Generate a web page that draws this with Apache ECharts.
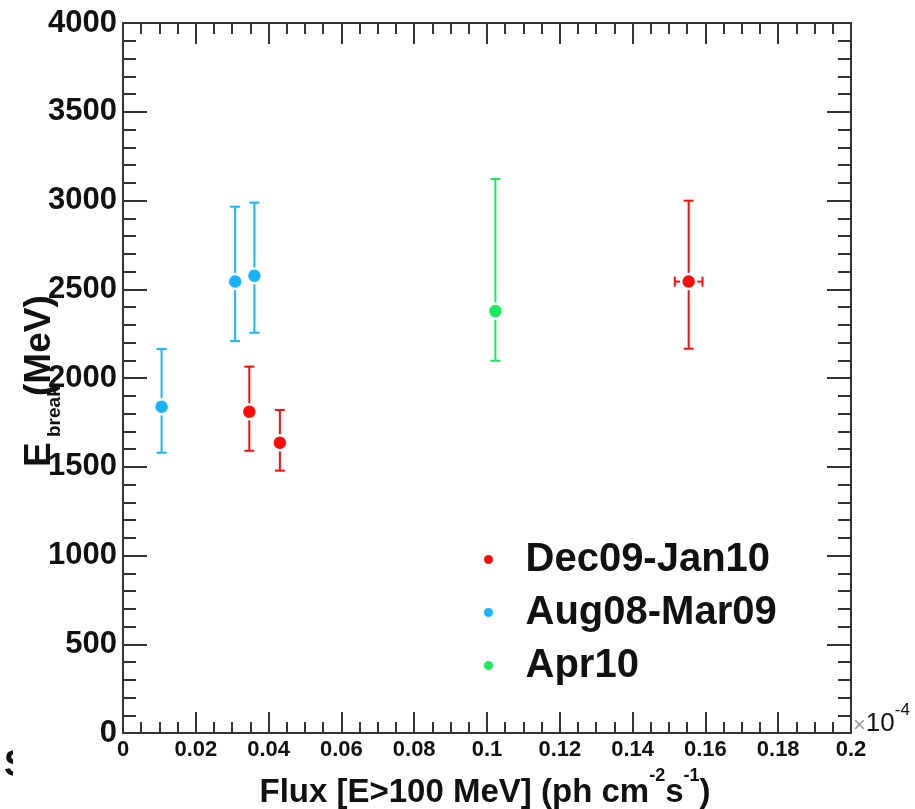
<!DOCTYPE html>
<html>
<head>
<meta charset="utf-8">
<script src="https://cdn.jsdelivr.net/npm/echarts@6/dist/echarts.min.js"></script>
<style>
  html, body { margin: 0; padding: 0; background: #fff; }
  #chart { width: 915px; height: 809px; }
</style>
</head>
<body>
<div id="chart"></div>
<script>
// Period labels and colours
const seriesNames = ['Dec09-Jan10', 'Aug08-Mar09', 'Apr10'];
const seriesColors = ['#ff0a0a', '#16b4ff', '#14ec5c'];

// Flux in units of 1e-4 ph cm^-2 s^-1, break energy in MeV with its lower/upper bounds
const decFlux    = [0.0347, 0.0431, 0.1554];
const decFluxErr = [0, 0, 0.0038];
const decEbreak  = [1810, 1635, 2543];
const decLow     = [1590, 1478, 2165];
const decHigh    = [2064, 1820, 2999];

const augFlux    = [0.0106, 0.0308, 0.0361];
const augFluxErr = [0, 0, 0];
const augEbreak  = [1838, 2543, 2576];
const augLow     = [1579, 2208, 2255];
const augHigh    = [2163, 2965, 2988];

const aprFlux    = [0.1023];
const aprFluxErr = [0];
const aprEbreak  = [2377];
const aprLow     = [2097];
const aprHigh    = [3121];

// Axis ranges
const xRange = [0, 0.2, 0.02];
const yRange = [0, 4000, 500];

const FONT = '"Liberation Sans", Arial, Helvetica, sans-serif';
const AXIS_COLOR = '#333';
const TEXT_COLOR = '#111';

function rows(flux, fluxErr, eb, lo, hi) {
  return flux.map((f, i) => [f, eb[i], lo[i], hi[i], fluxErr[i]]);
}

const groups = [
  rows(decFlux, decFluxErr, decEbreak, decLow, decHigh),
  rows(augFlux, augFluxErr, augEbreak, augLow, augHigh),
  rows(aprFlux, aprFluxErr, aprEbreak, aprLow, aprHigh)
];

function errorBarRenderer(color) {
  return function (params, api) {
    const x = api.value(0), y = api.value(1);
    const lo = api.value(2), hi = api.value(3), dx = api.value(4);
    const pLo = api.coord([x, lo]);
    const pHi = api.coord([x, hi]);
    const cap = 5;
    const st = { stroke: color, lineWidth: 2 };
    const children = [
      { type: 'line', shape: { x1: pLo[0], y1: pLo[1], x2: pHi[0], y2: pHi[1] }, style: st },
      { type: 'line', shape: { x1: pLo[0] - cap, y1: pLo[1], x2: pLo[0] + cap, y2: pLo[1] }, style: st },
      { type: 'line', shape: { x1: pHi[0] - cap, y1: pHi[1], x2: pHi[0] + cap, y2: pHi[1] }, style: st }
    ];
    if (dx > 0) {
      const pL = api.coord([x - dx, y]);
      const pR = api.coord([x + dx, y]);
      children.push(
        { type: 'line', shape: { x1: pL[0], y1: pL[1], x2: pR[0], y2: pR[1] }, style: st },
        { type: 'line', shape: { x1: pL[0], y1: pL[1] - cap, x2: pL[0], y2: pL[1] + cap }, style: st },
        { type: 'line', shape: { x1: pR[0], y1: pR[1] - cap, x2: pR[0], y2: pR[1] + cap }, style: st }
      );
    }
    return { type: 'group', children: children };
  };
}

const tickLine = { color: AXIS_COLOR, width: 2 };

function xAxisDef(pos, showLabel) {
  return {
    type: 'value', position: pos,
    min: xRange[0], max: xRange[1], interval: xRange[2],
    axisLine: { show: true, onZero: false, lineStyle: tickLine },
    axisTick: { show: true, inside: true, length: 21, lineStyle: tickLine },
    minorTick: { show: true, splitNumber: 4, length: 11, lineStyle: tickLine },
    splitLine: { show: false },
    minorSplitLine: { show: false },
    axisLabel: {
      show: showLabel, margin: 6, fontSize: 22, fontWeight: 'bold',
      fontFamily: FONT, color: TEXT_COLOR,
      formatter: v => String(+v.toFixed(2))
    }
  };
}

function yAxisDef(pos, showLabel) {
  return {
    type: 'value', position: pos,
    min: yRange[0], max: yRange[1], interval: yRange[2],
    axisLine: { show: true, onZero: false, lineStyle: tickLine },
    axisTick: { show: true, inside: true, length: 24, lineStyle: tickLine },
    minorTick: { show: true, splitNumber: 5, length: 13, lineStyle: tickLine },
    splitLine: { show: false },
    minorSplitLine: { show: false },
    axisLabel: {
      show: showLabel, margin: 6, fontSize: 31, fontWeight: 'bold',
      fontFamily: FONT, color: TEXT_COLOR,
      formatter: v => String(v)
    }
  };
}

const series = [];
groups.forEach((data, i) => {
  series.push({
    name: seriesNames[i],
    type: 'custom',
    xAxisIndex: 0, yAxisIndex: 0,
    renderItem: errorBarRenderer(seriesColors[i]),
    encode: { x: 0, y: 1 },
    data: data,
    z: 2,
    silent: true
  });
});
groups.forEach((data, i) => {
  series.push({
    name: seriesNames[i],
    type: 'scatter',
    xAxisIndex: 0, yAxisIndex: 0,
    data: data.map(r => [r[0], r[1]]),
    symbol: 'circle',
    symbolSize: 15,
    itemStyle: { color: seriesColors[i], borderColor: '#fff', borderWidth: 2.5, opacity: 1 },
    emphasis: { disabled: true },
    z: 5
  });
});

const chart = echarts.init(document.getElementById('chart'), null, { renderer: 'canvas' });
chart.setOption({
  animation: false,
  backgroundColor: '#fff',
  grid: { left: 123, right: 64, top: 23, bottom: 76, containLabel: false },
  xAxis: [xAxisDef('bottom', true), xAxisDef('top', false)],
  yAxis: [yAxisDef('left', true), yAxisDef('right', false)],
  legend: {
    orient: 'vertical',
    left: 479, top: 528,
    itemWidth: 64, itemHeight: 9, itemGap: 0,
    icon: 'circle',
    selectedMode: false,
    itemStyle: { borderWidth: 0 },
    textStyle: { fontSize: 40, fontWeight: 'bold', fontFamily: FONT, color: TEXT_COLOR, lineHeight: 53 },
    data: seriesNames.map((n, i) => ({ name: n, itemStyle: { color: seriesColors[i], borderWidth: 0 } }))
  },
  graphic: [
    // x-axis title
    {
      type: 'text', x: 485, y: 788, z: 10,
      style: {
        text: '{m|Flux [E>100 MeV] (ph cm}{s|-2}{m|s}{s|-1}{m|)}',
        align: 'center', verticalAlign: 'middle',
        fill: TEXT_COLOR, fontFamily: FONT,
        rich: {
          m: { fontSize: 33, fontWeight: 'bold', fontFamily: FONT, lineHeight: 42, verticalAlign: 'bottom', fill: TEXT_COLOR },
          s: { fontSize: 18, fontWeight: 'bold', fontFamily: FONT, lineHeight: 18, verticalAlign: 'top', fill: TEXT_COLOR }
        }
      }
    },
    // y-axis title: E_break (MeV)
    {
      type: 'text', x: 40, y: 467, rotation: Math.PI / 2, z: 10,
      style: { text: 'E', fontSize: 37, fontWeight: 'bold', fontFamily: FONT, fill: TEXT_COLOR, align: 'left', verticalAlign: 'middle' }
    },
    {
      type: 'text', x: 55, y: 437, rotation: Math.PI / 2, z: 10,
      style: { text: 'break', fontSize: 19, fontWeight: 'bold', fontFamily: FONT, fill: TEXT_COLOR, align: 'left', verticalAlign: 'middle' }
    },
    {
      type: 'text', x: 40, y: 396, rotation: Math.PI / 2, z: 11,
      style: { text: '(MeV)', fontSize: 37, fontWeight: 'bold', fontFamily: FONT, fill: TEXT_COLOR, align: 'left', verticalAlign: 'middle' }
    },
    // axis exponent
    {
      type: 'text', x: 853, y: 719, z: 10,
      style: {
        text: '{x|×}{n|10}{s|-4}',
        align: 'left', verticalAlign: 'middle', fontFamily: FONT,
        rich: {
          x: { fontSize: 22, fontFamily: FONT, lineHeight: 35, verticalAlign: 'bottom', fill: '#9a9a9a' },
          n: { fontSize: 26, fontFamily: FONT, lineHeight: 35, verticalAlign: 'bottom', fill: TEXT_COLOR },
          s: { fontSize: 17, fontFamily: FONT, lineHeight: 17, verticalAlign: 'top', fill: TEXT_COLOR }
        }
      }
    },
    // clipped glyph at the lower-left edge
    {
      type: 'text', x: 4, y: 766, z: 10,
      style: { text: 'S', fontSize: 36, fontWeight: 'bold', fontFamily: FONT, fill: TEXT_COLOR, align: 'left', verticalAlign: 'middle' }
    },
    {
      type: 'rect', z: 11, shape: { x: 13, y: 745, width: 30, height: 45 }, style: { fill: '#fff' }
    }
  ],
  series: series
});
</script>
</body>
</html>
